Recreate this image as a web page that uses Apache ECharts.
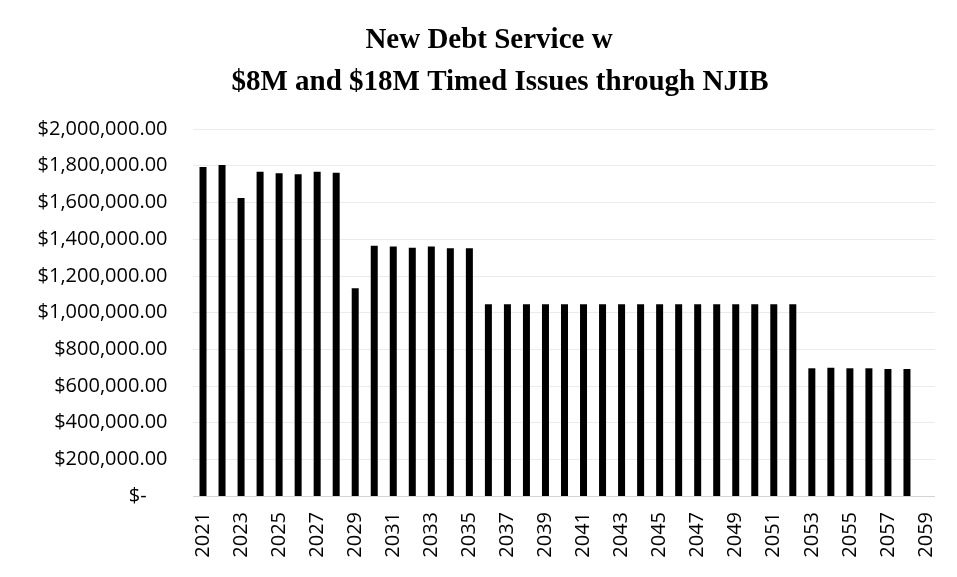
<!DOCTYPE html>
<html>
<head>
<meta charset="utf-8">
<title>New Debt Service</title>
<script src="https://cdn.jsdelivr.net/npm/echarts@6/dist/echarts.min.js"></script>
<style>
  html, body { margin: 0; padding: 0; background: #fff; }
  #chart { width: 957px; height: 577px; }
</style>
</head>
<body>
<div id="chart"></div>
<script>
// fiscal years on the x axis (2059 has no payment)
var years = ['2021', '2022', '2023', '2024', '2025', '2026', '2027', '2028', '2029', '2030',
  '2031', '2032', '2033', '2034', '2035', '2036', '2037', '2038', '2039', '2040',
  '2041', '2042', '2043', '2044', '2045', '2046', '2047', '2048', '2049', '2050',
  '2051', '2052', '2053', '2054', '2055', '2056', '2057', '2058', '2059'];

// new debt service per year, dollars
var debtService = [1793000, 1804000, 1624000, 1767000, 1759000, 1753000, 1767000, 1762000, 1132000, 1364000,
  1359000, 1353000, 1359000, 1350000, 1350000, 1045000, 1045000, 1045000, 1045000, 1045000,
  1045000, 1045000, 1045000, 1045000, 1045000, 1045000, 1045000, 1045000, 1045000, 1045000,
  1045000, 1045000, 696000, 699000, 696000, 696000, 692000, 692000, null];

var yMin = 0;
var yMax = 2000000;
var yStep = 200000;

function moneyLabel(v) {
	if (v === 0) {
		return '$-    ';
	}
	return '$' + v.toLocaleString('en-US', { minimumFractionDigits: 2, maximumFractionDigits: 2 });
}

var titleFont = {
	fontFamily: 'Liberation Serif',
	fontWeight: 'bold',
	fontSize: 29,
	color: '#000'
};

var myChart = echarts.init(document.getElementById('chart'));
var option = {
	backgroundColor: '#fff',
	animation: false,
	title: [{
		text: 'New Debt Service w',
		left: 484,
		top: 21,
		textAlign: 'center',
		textStyle: titleFont
	}, {
		text: '$8M and $18M Timed Issues through NJIB',
		left: 495,
		top: 63,
		textAlign: 'center',
		textStyle: titleFont
	}],
	grid: {
		left: 193.5,
		right: 21.5,
		top: 129,
		bottom: 81,
		containLabel: false
	},
	xAxis: {
		type: 'category',
		data: years,
		axisLine: { show: true, lineStyle: { color: '#d0d0d0', type: 'dotted' } },
		axisTick: { show: false },
		axisLabel: {
			interval: 1,
			rotate: 90,
			margin: 16,
			fontFamily: 'Open Sans',
			fontSize: 20,
			color: '#000'
		}
	},
	yAxis: {
		type: 'value',
		min: yMin,
		max: yMax,
		interval: yStep,
		axisLine: { show: false },
		axisTick: { show: false },
		splitLine: { show: true, lineStyle: { color: '#d6d6d6', type: 'dotted' } },
		axisLabel: {
			margin: 26,
			fontFamily: 'Open Sans',
			fontSize: 20,
			color: '#000',
			formatter: moneyLabel
		}
	},
	series: [{
		name: 'New Debt Service',
		type: 'bar',
		data: debtService,
		barWidth: 7,
		itemStyle: { color: '#000' }
	}]
};
myChart.setOption(option);
</script>
</body>
</html>
